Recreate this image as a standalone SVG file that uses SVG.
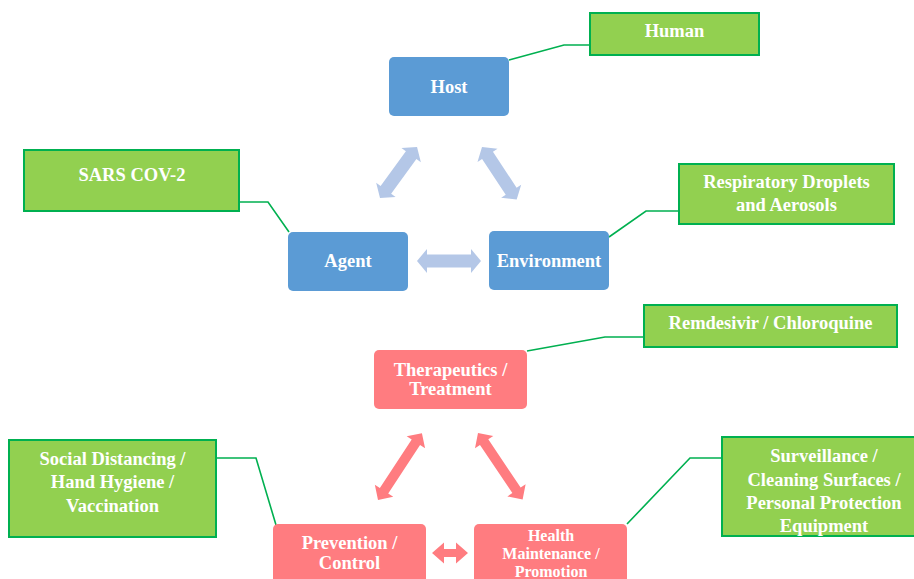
<svg xmlns="http://www.w3.org/2000/svg" width="914" height="579" viewBox="0 0 914 579">
<style>
.t{font-family:"Liberation Serif","Times New Roman",serif;font-weight:bold;font-size:18.5px;fill:#fff;text-anchor:middle}
.ts{font-size:16px}
.blue{fill:#5B9BD5}
.red{fill:#FF7C80}
.green{fill:#92D050;stroke:#00B050;stroke-width:2}
.conn{fill:none;stroke:#00B050;stroke-width:1.6}
.ab{fill:#B4C7E7}
.ar{fill:#FF7C80}
</style>
<rect width="914" height="579" fill="#fff"/>
<g id="connectors">
<polyline class="conn" points="509,60 564,45 590,45"/>
<polyline class="conn" points="239,202 268,202 289,232"/>
<polyline class="conn" points="609,237 646,211 679,211"/>
<polyline class="conn" points="527,351 605,337 644,337"/>
<polyline class="conn" points="216,458 256,458 276,525"/>
<polyline class="conn" points="627,524 690,458 722,458"/>
<path class="ab" transform="translate(380,198) rotate(-54)" d="M0,0 L10,-12 L10,-6.5 L53,-6.5 L53,-12 L63,0 L53,12 L53,6.5 L10,6.5 L10,12 Z"/>
<path class="ab" transform="translate(482,147) rotate(56.6)" d="M0,0 L10,-12 L10,-6.5 L53,-6.5 L53,-12 L63,0 L53,12 L53,6.5 L10,6.5 L10,12 Z"/>
<path class="ab" transform="translate(417,261)" d="M0,0 L10,-12 L10,-6.5 L54,-6.5 L54,-12 L64,0 L54,12 L54,6.5 L10,6.5 L10,12 Z"/>
<path class="ar" transform="translate(378,500) rotate(-56.7)" d="M0,0 L11,-11 L11,-5 L69,-5 L69,-11 L80,0 L69,11 L69,5 L11,5 L11,11 Z"/>
<path class="ar" transform="translate(478,433) rotate(56.1)" d="M0,0 L11,-11 L11,-5 L69,-5 L69,-11 L80,0 L69,11 L69,5 L11,5 L11,11 Z"/>
<path class="ar" transform="translate(432,553)" d="M0,0 L12,-10.5 L12,-4 L24,-4 L24,-10.5 L36,0 L24,10.5 L24,4 L12,4 L12,10.5 Z"/>
</g>
<g id="host"><rect class="blue" x="389" y="57" width="120" height="59" rx="5"/><text class="t" x="449" y="93">Host</text></g>
<g id="agent"><rect class="blue" x="288" y="232" width="120" height="59" rx="5"/><text class="t" x="348" y="267">Agent</text></g>
<g id="environment"><rect class="blue" x="489" y="231" width="120" height="59" rx="5"/><text class="t" x="549" y="267">Environment</text></g>
<g id="human"><rect class="green" x="590" y="13" width="169" height="42"/><text class="t" x="674.5" y="37">Human</text></g>
<g id="sars"><rect class="green" x="24" y="150" width="215" height="61"/><text class="t" x="132" y="181">SARS COV-2</text></g>
<g id="respiratory"><rect class="green" x="679" y="164" width="215" height="60"/><text class="t" x="786.5" y="188">Respiratory Droplets</text><text class="t" x="786.5" y="211">and Aerosols</text></g>
<g id="therapeutics"><rect class="red" x="374" y="350" width="153" height="59" rx="5"/><text class="t" x="450.5" y="376">Therapeutics /</text><text class="t" x="450.5" y="395">Treatment</text></g>
<g id="prevention"><rect class="red" x="273" y="524" width="153" height="70" rx="5"/><text class="t" x="349.5" y="549">Prevention /</text><text class="t" x="349.5" y="569">Control</text></g>
<g id="health"><rect class="red" x="474" y="524" width="153" height="70" rx="5"/><text class="t ts" x="551" y="541">Health</text><text class="t ts" x="551" y="559">Maintenance /</text><text class="t ts" x="551" y="577">Promotion</text></g>
<g id="remdesivir"><rect class="green" x="644" y="305" width="253" height="42"/><text class="t" x="770.5" y="329">Remdesivir / Chloroquine</text></g>
<g id="social"><rect class="green" x="9" y="440" width="207" height="97"/><text class="t" x="112.5" y="465">Social Distancing /</text><text class="t" x="112.5" y="488">Hand Hygiene /</text><text class="t" x="112.5" y="512">Vaccination</text></g>
<g id="surveillance"><rect class="green" x="722" y="437" width="204" height="99"/><text class="t" x="824" y="462">Surveillance /</text><text class="t" x="824" y="485.5">Cleaning Surfaces /</text><text class="t" x="824" y="509">Personal Protection</text><text class="t" x="824" y="532">Equipment</text></g>
</svg>
